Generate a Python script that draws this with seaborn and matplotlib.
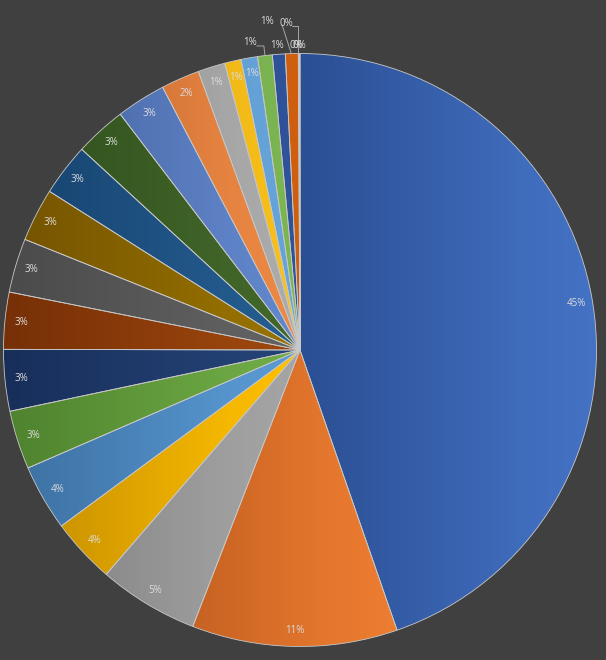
import numpy as np
import matplotlib
matplotlib.use('Agg')
import matplotlib.pyplot as plt
import seaborn as sns
from matplotlib.colors import to_rgb

# ---- data (share of total) ----
values = [44.7, 11.2, 5.45, 3.55, 3.6, 3.2, 3.35, 3.1, 2.95, 2.9, 2.85, 2.8,
          2.7, 2.1, 1.48, 0.9, 0.9, 0.8, 0.7, 0.7, 0.04, 0.03, 0.02]
colors = ['#4472C4', '#ED7D31', '#A5A5A5', '#FFC000', '#5B9BD5', '#70AD47',
          '#264478', '#9E480E', '#636363', '#997300', '#255E91', '#43682B',
          '#6388CD', '#EF8A45', '#ADADAD', '#FBC21A', '#67A6DC', '#7DB752',
          '#30539A', '#D0600F', '#848484', '#CC9A00', '#4A7EBB']

sns.set_theme(style='white')
plt.rcParams['font.family'] = ['Open Sans', 'DejaVu Sans']

BG = '#404040'
TXT = '#dcdcdc'
W, H, DPI = 606, 660, 100
CX, CY, R = 300, 350, 296.5

fig = plt.figure(figsize=(W / DPI, H / DPI), dpi=DPI, facecolor=BG)
ax = fig.add_axes([0, 0, 1, 1])
ax.set_facecolor(BG)

total = sum(values)
label_txt = [f"{int(v / total * 100 + 0.5)}%" for v in values]

wedges, _ = ax.pie(values, startangle=90, counterclock=False, colors=colors,
                   radius=1, wedgeprops=dict(edgecolor='#c8c8c8', linewidth=0.6))

# gradient fill per slice: darker towards the left, theme colour on the right
for w, c in zip(wedges, colors):
    ext = w.get_path().get_extents()
    xs = np.linspace(ext.x0, ext.x1, 256)
    d = ext.x1 - xs
    dark = 0.21 * np.clip((d - 0.25) / 0.75, 0, 1) + 0.04 * np.clip(d / 0.25, 0, 1)
    base = np.array(to_rgb(c))
    rel = base / base.max()
    img = base[None, :] * (1 - dark[:, None]) * rel[None, :] ** (dark[:, None] * 0.6)
    img = np.clip(img, 0, 1)[None, :, :]
    im = ax.imshow(img, extent=[ext.x0, ext.x1, ext.y0, ext.y1], aspect='auto',
                   interpolation='bilinear', zorder=1)
    im.set_clip_path(w)
    w.set_facecolor('none')
    w.set_zorder(2)

ax.set_xlim(-CX / R, (W - CX) / R)
ax.set_ylim(-(H - CY) / R, CY / R)
ax.set_aspect('auto')
ax.axis('off')


def mid(w):
    a = np.deg2rad((w.theta1 + w.theta2) / 2)
    return np.cos(a), np.sin(a)


# inside labels
for i in range(17):
    cx, cy = mid(wedges[i])
    ax.text(0.945 * cx, 0.945 * cy, label_txt[i], ha='center', va='center',
            color=TXT, fontsize=7, zorder=5)

# outside labels: (index, text offset px, leader offsets px)
outside = [
    (17, (-15, -12.6), [(-8, -9.6), (-1, -9.6), (0, -0.6)]),
    (18, (-2, -9), None),
    (19, (-24.7, -32.6), [(-9.7, -28.6), (-0.7, -0.6)]),
    (20, (-12.5, -30.5), [(-6.5, -27.5), (-0.5, -27.5), (-0.5, -0.5)]),
    (21, (-2.5, -8.5), None),
    (22, (-0.5, -8.5), None),
]
for i, (ox, oy), lead in outside:
    ex, ey = mid(wedges[i])
    ax.text(ex + ox / R, ey - oy / R, label_txt[i], ha='center', va='center',
            color=TXT, fontsize=7, zorder=5)
    if lead:
        xs = [ex + p[0] / R for p in lead]
        ys = [ey - p[1] / R for p in lead]
        ax.plot(xs, ys, color='#a6a6a6', lw=0.7, zorder=4)

fig.savefig('out.png', dpi=DPI, facecolor=BG)
